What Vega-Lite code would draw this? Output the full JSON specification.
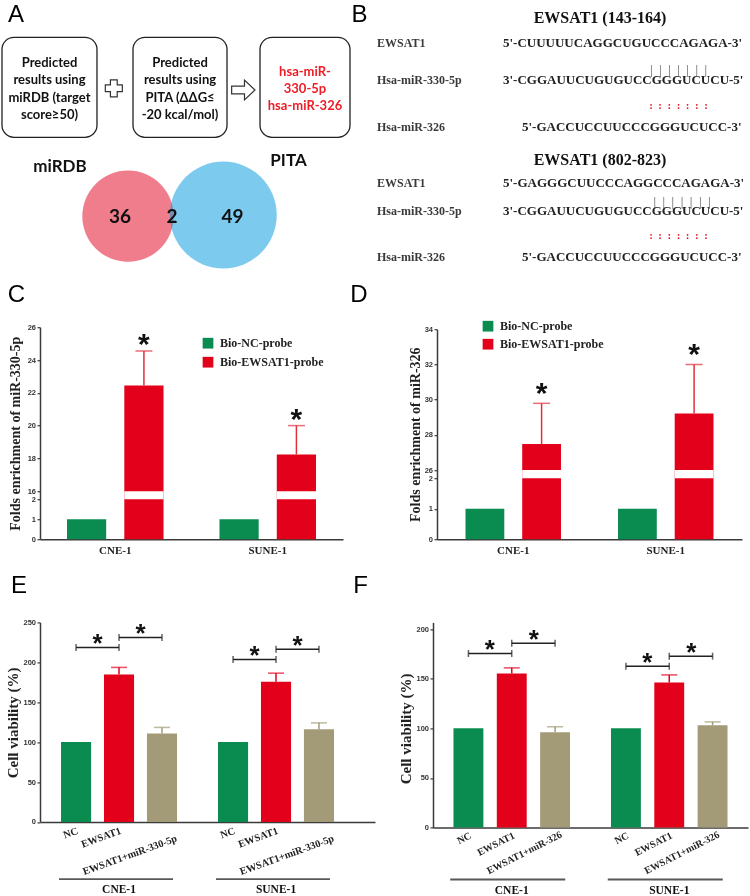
{
  "$schema": "https://vega.github.io/schema/vega-lite/v6.json",
  "background": "white",
  "padding": {"left": 1, "top": 0, "right": 0, "bottom": 0},
  "autosize": {"type": "pad"},
  "config": {
    "view": {"stroke": null},
    "axis": {"domainColor": "#3a3a3a", "domainWidth": 1.5, "tickColor": "#3a3a3a", "tickWidth": 1.2, "tickSize": 3, "labelFont": "Liberation Sans", "labelFontWeight": "bold", "labelFontSize": 7.5, "labelColor": "#333333", "labelPadding": 1.5, "grid": false, "titleFont": "Liberation Serif", "titleFontWeight": "bold", "titleColor": "#222222"},
    "text": {"font": "Liberation Serif"}
  },
  "datasets": {
    "aBoxes": [
      {"step": "miRDB", "x1": 0.57, "x2": 27.71, "y1": 12.87, "y2": 47.36},
      {"step": "PITA", "x1": 38.0, "x2": 64.86, "y1": 12.87, "y2": 47.36},
      {"step": "result", "x1": 74.29, "x2": 100.0, "y1": 12.87, "y2": 47.36}
    ],
    "aText": [
      {"kind": "box", "x": 14.14, "y": 21.72, "label": "Predicted\nresults using\nmiRDB (target\nscore≥50)"},
      {"kind": "box", "x": 51.43, "y": 21.72, "label": "Predicted\nresults using\nPITA (ΔΔG≤\n-20 kcal/mol)"},
      {"kind": "hit", "x": 87.14, "y": 24.83, "label": "hsa-miR-\n330-5p\nhsa-miR-326"},
      {"kind": "set", "x": 17.14, "y": 57.59, "label": "miRDB"},
      {"kind": "set", "x": 82.43, "y": 55.5, "label": "PITA"},
      {"kind": "count", "x": 34.29, "y": 74.66, "label": "36"},
      {"kind": "count", "x": 49.14, "y": 74.66, "label": "2"},
      {"kind": "count", "x": 66.43, "y": 74.66, "label": "49"},
      {"kind": "panel", "x": 4.57, "y": 7.59, "label": "A"},
      {"kind": "panel", "x": 102.71, "y": 7.59, "label": "B"},
      {"kind": "panel", "x": 4.71, "y": 104.14, "label": "C"},
      {"kind": "panel", "x": 102.57, "y": 104.14, "label": "D"},
      {"kind": "panel", "x": 5.43, "y": 204.48, "label": "E"},
      {"kind": "panel", "x": 103.0, "y": 204.48, "label": "F"}
    ],
    "aSigns": [
      {"sign": "plus", "x": 32.52, "y": 30.45},
      {"sign": "arrow", "x": 69.52, "y": 31.03}
    ],
    "aVenn": [
      {"set": "miRDB", "x": 36.57, "y": 74.55},
      {"set": "PITA", "x": 63.8, "y": 74.14}
    ],
    "bText": [
      {"kind": "title", "x": 60, "y": 6.21, "label": "EWSAT1 (143-164)"},
      {"kind": "name", "x": 0.53, "y": 14.83, "label": "EWSAT1"},
      {"kind": "name", "x": 0.53, "y": 27.59, "label": "Hsa-miR-330-5p"},
      {"kind": "name", "x": 0.53, "y": 43.79, "label": "Hsa-miR-326"},
      {"kind": "seq", "x": 34.13, "y": 14.83, "label": "5'-CUUUUUCAGGCUGUCCCAGAGA-3'"},
      {"kind": "seq", "x": 34.13, "y": 27.59, "label": "3'-CGGAUUCUGUGUCCGGGUCUCU-5'"},
      {"kind": "seq", "x": 39.2, "y": 43.79, "label": "5'-GACCUCCUUCCCGGGUCUCC-3'"},
      {"kind": "pair", "x": 80.93, "y": 24.31, "label": "|\u00a0\u00a0|\u00a0\u00a0|\u00a0\u00a0|\u00a0\u00a0|\u00a0\u00a0|\u00a0\u00a0|"},
      {"kind": "dots", "x": 80.93, "y": 36.55, "label": ":\u00a0\u00a0:\u00a0\u00a0:\u00a0\u00a0:\u00a0\u00a0:\u00a0\u00a0:\u00a0\u00a0:"},
      {"kind": "title", "x": 60, "y": 55.17, "label": "EWSAT1 (802-823)"},
      {"kind": "name", "x": 0.53, "y": 63.21, "label": "EWSAT1"},
      {"kind": "name", "x": 0.53, "y": 72.66, "label": "Hsa-miR-330-5p"},
      {"kind": "name", "x": 0.53, "y": 88.72, "label": "Hsa-miR-326"},
      {"kind": "seq", "x": 34.13, "y": 63.21, "label": "5'-GAGGGCUUCCCAGGCCCAGAGA-3'"},
      {"kind": "seq", "x": 34.13, "y": 72.66, "label": "3'-CGGAUUCUGUGUCCGGGUCUCU-5'"},
      {"kind": "seq", "x": 39.2, "y": 88.72, "label": "5'-GACCUCCUUCCCGGGUCUCC-3'"},
      {"kind": "pair", "x": 81.87, "y": 69.66, "label": "|\u00a0\u00a0|\u00a0\u00a0|\u00a0\u00a0|\u00a0\u00a0|\u00a0\u00a0|\u00a0\u00a0|"},
      {"kind": "dots", "x": 80.93, "y": 81.55, "label": ":\u00a0\u00a0:\u00a0\u00a0:\u00a0\u00a0:\u00a0\u00a0:\u00a0\u00a0:\u00a0\u00a0:"}
    ],
    "cBars": [
      {"cell": "CNE-1", "probe": "Bio-NC-probe", "v": 1},
      {"cell": "CNE-1", "probe": "Bio-EWSAT1-probe", "v": 22.45, "err": 24.55},
      {"cell": "SUNE-1", "probe": "Bio-NC-probe", "v": 1},
      {"cell": "SUNE-1", "probe": "Bio-EWSAT1-probe", "v": 18.24, "err": 20.0}
    ],
    "dBars": [
      {"cell": "CNE-1", "probe": "Bio-NC-probe", "v": 1},
      {"cell": "CNE-1", "probe": "Bio-EWSAT1-probe", "v": 27.48, "err": 29.79},
      {"cell": "SUNE-1", "probe": "Bio-NC-probe", "v": 1},
      {"cell": "SUNE-1", "probe": "Bio-EWSAT1-probe", "v": 29.22, "err": 32.0}
    ],
    "cells": [{"cell": "CNE-1"}, {"cell": "SUNE-1"}],
    "eBars": [
      {"cell": "CNE-1", "cond": "NC", "v": 100},
      {"cell": "CNE-1", "cond": "EWSAT1", "v": 184.8, "err": 193.6},
      {"cell": "CNE-1", "cond": "EWSAT1+miR-330-5p", "v": 110.8, "err": 118.4},
      {"cell": "SUNE-1", "cond": "NC", "v": 100},
      {"cell": "SUNE-1", "cond": "EWSAT1", "v": 175.5, "err": 186.4},
      {"cell": "SUNE-1", "cond": "EWSAT1+miR-330-5p", "v": 116.2, "err": 124.1}
    ],
    "eBr": [
      {"id": "e1", "cell": "CNE-1", "cond": "NC", "y": 218.7},
      {"id": "e1", "cell": "CNE-1", "cond": "EWSAT1", "y": 218.7},
      {"id": "e2", "cell": "CNE-1", "cond": "EWSAT1", "y": 231.2},
      {"id": "e2", "cell": "CNE-1", "cond": "EWSAT1+miR-330-5p", "y": 231.2},
      {"id": "e3", "cell": "SUNE-1", "cond": "NC", "y": 203.6},
      {"id": "e3", "cell": "SUNE-1", "cond": "EWSAT1", "y": 203.6},
      {"id": "e4", "cell": "SUNE-1", "cond": "EWSAT1", "y": 216.2},
      {"id": "e4", "cell": "SUNE-1", "cond": "EWSAT1+miR-330-5p", "y": 216.2}
    ],
    "eStar": [
      {"cell": "CNE-1", "cond": "EWSAT1", "side": "L", "y": 218.7},
      {"cell": "CNE-1", "cond": "EWSAT1", "side": "R", "y": 231.2},
      {"cell": "SUNE-1", "cond": "EWSAT1", "side": "L", "y": 203.6},
      {"cell": "SUNE-1", "cond": "EWSAT1", "side": "R", "y": 216.2}
    ],
    "fBars": [
      {"cell": "CNE-1", "cond": "NC", "v": 100},
      {"cell": "CNE-1", "cond": "EWSAT1", "v": 155.3, "err": 161.0},
      {"cell": "CNE-1", "cond": "EWSAT1+miR-326", "v": 96.1, "err": 101.5},
      {"cell": "SUNE-1", "cond": "NC", "v": 100},
      {"cell": "SUNE-1", "cond": "EWSAT1", "v": 146.2, "err": 153.9},
      {"cell": "SUNE-1", "cond": "EWSAT1+miR-326", "v": 103.2, "err": 106.5}
    ],
    "fBr": [
      {"id": "f1", "cell": "CNE-1", "cond": "NC", "y": 175.5},
      {"id": "f1", "cell": "CNE-1", "cond": "EWSAT1", "y": 175.5},
      {"id": "f2", "cell": "CNE-1", "cond": "EWSAT1", "y": 185.9},
      {"id": "f2", "cell": "CNE-1", "cond": "EWSAT1+miR-326", "y": 185.9},
      {"id": "f3", "cell": "SUNE-1", "cond": "NC", "y": 162.7},
      {"id": "f3", "cell": "SUNE-1", "cond": "EWSAT1", "y": 162.7},
      {"id": "f4", "cell": "SUNE-1", "cond": "EWSAT1", "y": 172.8},
      {"id": "f4", "cell": "SUNE-1", "cond": "EWSAT1+miR-326", "y": 172.8}
    ],
    "fStar": [
      {"cell": "CNE-1", "cond": "EWSAT1", "side": "L", "y": 175.5},
      {"cell": "CNE-1", "cond": "EWSAT1", "side": "R", "y": 185.9},
      {"cell": "SUNE-1", "cond": "EWSAT1", "side": "L", "y": 162.7},
      {"cell": "SUNE-1", "cond": "EWSAT1", "side": "R", "y": 172.8}
    ]
  },
  "columns": 2,
  "align": "none",
  "bounds": "flush",
  "spacing": {"row": 83.2, "column": 58},
  "resolve": {"scale": {"color": "independent", "xOffset": "independent"}, "legend": {"color": "independent"}},
  "concat": [
    {
      "width": 277,
      "height": 243.8,
      "encoding": {
        "x": {"field": "x", "type": "quantitative", "scale": {"domain": [11.4286, 90.5714], "nice": false, "zero": false}, "axis": null},
        "y": {"field": "y", "type": "quantitative", "scale": {"domain": [0, 84.069], "nice": false, "zero": false, "reverse": true}, "axis": null}
      },
      "layer": [
        {
          "data": {"name": "aBoxes"},
          "mark": {"type": "rect", "cornerRadius": 12, "fill": "white", "stroke": "#222222", "strokeWidth": 1.3},
          "encoding": {
            "x": {"field": "x1", "type": "quantitative", "scale": {"domain": [11.4286, 90.5714], "nice": false, "zero": false}, "axis": null},
            "x2": {"field": "x2"},
            "y": {"field": "y1", "type": "quantitative", "scale": {"domain": [0, 84.069], "nice": false, "zero": false, "reverse": true}, "axis": null},
            "y2": {"field": "y2"}
          }
        },
        {
          "data": {"name": "aSigns"},
          "transform": [{"filter": "datum.sign == 'plus'"}],
          "mark": {"type": "point", "shape": "cross", "size": 289, "filled": true, "fill": "white", "stroke": "#333333", "strokeWidth": 1.2, "opacity": 1}
        },
        {
          "data": {"name": "aSigns"},
          "transform": [{"filter": "datum.sign == 'arrow'"}],
          "mark": {"type": "point", "shape": "M-1,-0.33L0.1,-0.33L0.1,-0.85L1,0L0.1,0.85L0.1,0.33L-1,0.33Z", "size": 545, "filled": true, "fill": "white", "stroke": "#333333", "strokeWidth": 1.2, "opacity": 1}
        },
        {
          "data": {"name": "aVenn"},
          "transform": [{"filter": "datum.set == 'miRDB'"}],
          "mark": {"type": "point", "shape": "circle", "size": 8332, "filled": true, "color": "#f9b4c0", "opacity": 1}
        },
        {
          "data": {"name": "aVenn"},
          "transform": [{"filter": "datum.set == 'PITA'"}],
          "mark": {"type": "point", "shape": "circle", "size": 11423, "filled": true, "color": "#7ccbef", "opacity": 1}
        },
        {
          "data": {"name": "aVenn"},
          "transform": [{"filter": "datum.set == 'miRDB'"}],
          "mark": {"type": "point", "shape": "circle", "size": 8332, "filled": true, "color": "#f07d8c", "opacity": 0.6, "blend": "multiply"}
        },
        {
          "data": {"name": "aText"},
          "transform": [{"filter": "datum.kind == 'box'"}],
          "mark": {"type": "text", "font": "Lato", "fontWeight": "bold", "fontSize": 13, "lineBreak": "\n", "lineHeight": 17.3, "align": "center", "baseline": "middle", "color": "#111111"},
          "encoding": {"text": {"field": "label"}}
        },
        {
          "data": {"name": "aText"},
          "transform": [{"filter": "datum.kind == 'hit'"}],
          "mark": {"type": "text", "font": "Lato", "fontWeight": "bold", "fontSize": 13, "lineBreak": "\n", "lineHeight": 17, "align": "center", "baseline": "middle", "color": "#ee1c25"},
          "encoding": {"text": {"field": "label"}}
        },
        {
          "data": {"name": "aText"},
          "transform": [{"filter": "datum.kind == 'set'"}],
          "mark": {"type": "text", "font": "Lato", "fontWeight": "bold", "fontSize": 17, "align": "center", "baseline": "middle", "color": "#111111"},
          "encoding": {"text": {"field": "label"}}
        },
        {
          "data": {"name": "aText"},
          "transform": [{"filter": "datum.kind == 'count'"}],
          "mark": {"type": "text", "font": "Lato", "fontWeight": "bold", "fontSize": 19, "align": "center", "baseline": "middle", "color": "#111111"},
          "encoding": {"text": {"field": "label"}}
        },
        {
          "data": {"name": "aText"},
          "transform": [{"filter": "datum.kind == 'panel'"}],
          "mark": {"type": "text", "font": "Liberation Sans", "fontSize": 24, "align": "center", "baseline": "alphabetic", "color": "#000000"},
          "encoding": {"text": {"field": "label"}}
        }
      ]
    },
    {
      "width": 317,
      "height": 243.8,
      "data": {"name": "bText"},
      "encoding": {
        "x": {"field": "x", "type": "quantitative", "scale": {"domain": [15.467, 100], "nice": false, "zero": false}, "axis": null},
        "y": {"field": "y", "type": "quantitative", "scale": {"domain": [0, 84.069], "nice": false, "zero": false, "reverse": true}, "axis": null},
        "text": {"field": "label"}
      },
      "layer": [
        {"transform": [{"filter": "datum.kind == 'title'"}], "mark": {"type": "text", "font": "Liberation Serif", "fontWeight": "bold", "fontSize": 16, "align": "center", "baseline": "middle", "color": "#111111"}},
        {"transform": [{"filter": "datum.kind == 'name'"}], "mark": {"type": "text", "font": "Liberation Serif", "fontWeight": "bold", "fontSize": 12, "align": "left", "baseline": "middle", "color": "#3a3a3a"}},
        {"transform": [{"filter": "datum.kind == 'seq'"}], "mark": {"type": "text", "font": "Liberation Serif", "fontWeight": "bold", "fontSize": 13, "align": "left", "baseline": "middle", "color": "#222222"}},
        {"transform": [{"filter": "datum.kind == 'pair'"}], "mark": {"type": "text", "font": "Liberation Serif", "fontSize": 13, "align": "center", "baseline": "middle", "color": "#555555"}},
        {"transform": [{"filter": "datum.kind == 'dots'"}], "mark": {"type": "text", "font": "Liberation Serif", "fontWeight": "bold", "fontSize": 11, "align": "center", "baseline": "middle", "color": "#e8141b"}}
      ]
    },
    {
      "width": 303,
      "height": 212,
      "data": {"name": "cBars"},
      "encoding": {
        "x": {"field": "cell", "type": "nominal", "scale": {"type": "band", "paddingInner": 0.367, "paddingOuter": 0.177, "align": 0.5}, "axis": {"title": null, "ticks": false, "tickSize": 0, "labelPadding": 5, "labelFont": "Liberation Serif", "labelFontSize": 11, "labelFontWeight": "bold", "labelColor": "#222222", "labelAngle": 0}},
        "xOffset": {"field": "probe", "type": "nominal", "scale": {"type": "band", "domain": ["Bio-NC-probe", "Bio-EWSAT1-probe"], "paddingInner": 0.316, "paddingOuter": 0}}
      },
      "layer": [
        {
          "mark": {"type": "bar"},
          "encoding": {
            "y": {"field": "v", "type": "quantitative", "scale": {"domain": [0, 2, 16, 26], "range": [212, 172, 164, 0], "nice": false, "zero": false}, "axis": {"values": [0, 1, 2, 16, 18, 20, 22, 24, 26], "format": "d", "title": "Folds enrichment of miR-330-5p", "titleFontSize": 14, "titlePadding": 4.5}},
            "color": {"field": "probe", "type": "nominal", "scale": {"domain": ["Bio-NC-probe", "Bio-EWSAT1-probe"], "range": ["#0a8c50", "#e2001b"]}, "legend": {"orient": "none", "legendX": 162, "legendY": 10, "title": null, "symbolType": "square", "symbolSize": 115, "symbolStrokeWidth": 0, "labelFont": "Liberation Serif", "labelFontWeight": "bold", "labelFontSize": 12, "labelColor": "#222222", "rowPadding": 7, "labelOffset": 6, "padding": 0}}
          }
        },
        {
          "mark": {"type": "rect", "color": "white", "xOffset": -1},
          "encoding": {
            "y": {"datum": 2, "type": "quantitative", "scale": {"domain": [0, 2, 16, 26], "range": [212, 172, 164, 0], "nice": false, "zero": false}, "axis": {"values": [0, 1, 2, 16, 18, 20, 22, 24, 26], "format": "d", "title": "Folds enrichment of miR-330-5p", "titleFontSize": 14, "titlePadding": 4.5}},
            "y2": {"datum": 16}
          }
        },
        {
          "transform": [{"filter": "isValid(datum.err)"}],
          "mark": {"type": "rule", "color": "#e0303c", "strokeWidth": 1.5},
          "encoding": {"y": {"field": "v", "type": "quantitative", "scale": {"domain": [0, 2, 16, 26], "range": [212, 172, 164, 0], "nice": false, "zero": false}, "axis": {"values": [0, 1, 2, 16, 18, 20, 22, 24, 26], "format": "d", "title": "Folds enrichment of miR-330-5p", "titleFontSize": 14, "titlePadding": 4.5}}, "y2": {"field": "err"}}
        },
        {
          "transform": [{"filter": "isValid(datum.err)"}],
          "mark": {"type": "tick", "orient": "horizontal", "color": "#e0303c", "thickness": 1.5, "size": 17},
          "encoding": {"y": {"field": "err", "type": "quantitative", "scale": {"domain": [0, 2, 16, 26], "range": [212, 172, 164, 0], "nice": false, "zero": false}, "axis": {"values": [0, 1, 2, 16, 18, 20, 22, 24, 26], "format": "d", "title": "Folds enrichment of miR-330-5p", "titleFontSize": 14, "titlePadding": 4.5}}}
        },
        {
          "transform": [{"filter": "isValid(datum.err)"}],
          "mark": {"type": "text", "text": "*", "font": "Liberation Sans", "fontWeight": "bold", "fontSize": 30, "align": "center", "baseline": "alphabetic", "dy": 3, "color": "#111111"},
          "encoding": {"y": {"field": "err", "type": "quantitative", "scale": {"domain": [0, 2, 16, 26], "range": [212, 172, 164, 0], "nice": false, "zero": false}, "axis": {"values": [0, 1, 2, 16, 18, 20, 22, 24, 26], "format": "d", "title": "Folds enrichment of miR-330-5p", "titleFontSize": 14, "titlePadding": 4.5}}}
        }
      ]
    },
    {
      "width": 309,
      "height": 212,
      "data": {"name": "dBars"},
      "encoding": {
        "x": {"field": "cell", "type": "nominal", "scale": {"type": "band", "range": [4, 309], "paddingInner": 0.374, "paddingOuter": 0.187, "align": 0.5}, "axis": {"title": null, "ticks": false, "tickSize": 0, "labelPadding": 5, "labelFont": "Liberation Serif", "labelFontSize": 11, "labelFontWeight": "bold", "labelColor": "#222222", "labelAngle": 0}},
        "xOffset": {"field": "probe", "type": "nominal", "scale": {"type": "band", "domain": ["Bio-NC-probe", "Bio-EWSAT1-probe"], "paddingInner": 0.316, "paddingOuter": 0}}
      },
      "layer": [
        {
          "mark": {"type": "bar"},
          "encoding": {
            "y": {"field": "v", "type": "quantitative", "scale": {"domain": [0, 2, 26, 34], "range": [212, 151.1, 142.9, 2], "nice": false, "zero": false}, "axis": {"values": [0, 1, 2, 26, 28, 30, 32, 34], "format": "d", "title": "Folds enrichment of miR-326", "titleFontSize": 14, "titlePadding": 2, "offset": -4}},
            "color": {"field": "probe", "type": "nominal", "scale": {"domain": ["Bio-NC-probe", "Bio-EWSAT1-probe"], "range": ["#0a8c50", "#e2001b"]}, "legend": {"orient": "none", "legendX": 49, "legendY": -7, "title": null, "symbolType": "square", "symbolSize": 115, "symbolStrokeWidth": 0, "labelFont": "Liberation Serif", "labelFontWeight": "bold", "labelFontSize": 12, "labelColor": "#222222", "rowPadding": 6, "labelOffset": 6, "padding": 0}}
          }
        },
        {
          "mark": {"type": "rect", "color": "white", "xOffset": 3},
          "encoding": {
            "y": {"datum": 2, "type": "quantitative", "scale": {"domain": [0, 2, 26, 34], "range": [212, 151.1, 142.9, 2], "nice": false, "zero": false}, "axis": {"values": [0, 1, 2, 26, 28, 30, 32, 34], "format": "d", "title": "Folds enrichment of miR-326", "titleFontSize": 14, "titlePadding": 2, "offset": -4}},
            "y2": {"datum": 26}
          }
        },
        {
          "transform": [{"filter": "isValid(datum.err)"}],
          "mark": {"type": "rule", "color": "#e0303c", "strokeWidth": 1.5},
          "encoding": {"y": {"field": "v", "type": "quantitative", "scale": {"domain": [0, 2, 26, 34], "range": [212, 151.1, 142.9, 2], "nice": false, "zero": false}, "axis": {"values": [0, 1, 2, 26, 28, 30, 32, 34], "format": "d", "title": "Folds enrichment of miR-326", "titleFontSize": 14, "titlePadding": 2, "offset": -4}}, "y2": {"field": "err"}}
        },
        {
          "transform": [{"filter": "isValid(datum.err)"}],
          "mark": {"type": "tick", "orient": "horizontal", "color": "#e0303c", "thickness": 1.5, "size": 17},
          "encoding": {"y": {"field": "err", "type": "quantitative", "scale": {"domain": [0, 2, 26, 34], "range": [212, 151.1, 142.9, 2], "nice": false, "zero": false}, "axis": {"values": [0, 1, 2, 26, 28, 30, 32, 34], "format": "d", "title": "Folds enrichment of miR-326", "titleFontSize": 14, "titlePadding": 2, "offset": -4}}}
        },
        {
          "transform": [{"filter": "isValid(datum.err)"}],
          "mark": {"type": "text", "text": "*", "font": "Liberation Sans", "fontWeight": "bold", "fontSize": 30, "align": "center", "baseline": "alphabetic", "dy": 0, "color": "#111111"},
          "encoding": {"y": {"field": "err", "type": "quantitative", "scale": {"domain": [0, 2, 26, 34], "range": [212, 151.1, 142.9, 2], "nice": false, "zero": false}, "axis": {"values": [0, 1, 2, 26, 28, 30, 32, 34], "format": "d", "title": "Folds enrichment of miR-326", "titleFontSize": 14, "titlePadding": 2, "offset": -4}}}
        }
      ]
    },
    {
      "width": 335,
      "height": 199.5,
      "encoding": {
        "x": {"field": "cell", "type": "nominal", "scale": {"type": "band", "domain": ["CNE-1", "SUNE-1"], "paddingInner": 0.2611, "paddingOuter": 0.1975, "align": 0.339}, "axis": {"title": null, "ticks": false, "tickSize": 0, "labelPadding": 62, "labelFont": "Liberation Serif", "labelFontSize": 11.5, "labelFontWeight": "bold", "labelColor": "#111111", "labelAngle": 0}},
        "xOffset": {"field": "cond", "type": "nominal", "scale": {"type": "band", "domain": ["NC", "EWSAT1", "EWSAT1+miR-330-5p"], "paddingInner": 0.3, "paddingOuter": 0}}
      },
      "layer": [
        {
          "data": {"name": "eBars"},
          "mark": {"type": "bar"},
          "encoding": {
            "y": {"field": "v", "type": "quantitative", "scale": {"domain": [0, 250], "nice": false}, "axis": {"values": [0, 50, 100, 150, 200, 250], "format": "d", "title": "Cell viability (%)", "titleFontSize": 15, "titleAngle": 270, "titleX": -28, "titleY": 100, "titleAlign": "center", "titleBaseline": "middle"}},
            "color": {"field": "cond", "type": "nominal", "scale": {"domain": ["NC", "EWSAT1", "EWSAT1+miR-330-5p"], "range": ["#0a8c50", "#e2001b", "#a39b78"]}, "legend": null}
          }
        },
        {
          "data": {"name": "eBars"},
          "transform": [{"filter": "isValid(datum.err)"}],
          "mark": {"type": "rule", "strokeWidth": 1.5},
          "encoding": {
            "y": {"field": "v", "type": "quantitative", "scale": {"domain": [0, 250], "nice": false}, "axis": {"values": [0, 50, 100, 150, 200, 250], "format": "d", "title": "Cell viability (%)", "titleFontSize": 15, "titleAngle": 270, "titleX": -28, "titleY": 100, "titleAlign": "center", "titleBaseline": "middle"}},
            "y2": {"field": "err"},
            "color": {"field": "cond", "type": "nominal", "scale": {"domain": ["NC", "EWSAT1", "EWSAT1+miR-330-5p"], "range": ["#0a8c50", "#e2001b", "#a39b78"]}, "legend": null}
          }
        },
        {
          "data": {"name": "eBars"},
          "transform": [{"filter": "isValid(datum.err)"}],
          "mark": {"type": "tick", "orient": "horizontal", "thickness": 1.5, "size": 16},
          "encoding": {
            "y": {"field": "err", "type": "quantitative", "scale": {"domain": [0, 250], "nice": false}, "axis": {"values": [0, 50, 100, 150, 200, 250], "format": "d", "title": "Cell viability (%)", "titleFontSize": 15, "titleAngle": 270, "titleX": -28, "titleY": 100, "titleAlign": "center", "titleBaseline": "middle"}},
            "color": {"field": "cond", "type": "nominal", "scale": {"domain": ["NC", "EWSAT1", "EWSAT1+miR-330-5p"], "range": ["#0a8c50", "#e2001b", "#a39b78"]}, "legend": null}
          }
        },
        {
          "data": {"name": "eBars"},
          "transform": [{"filter": "datum.cond != 'EWSAT1+miR-330-5p'"}],
          "mark": {"type": "text", "angle": 340, "align": "right", "baseline": "top", "font": "Liberation Serif", "fontWeight": "bold", "fontSize": 10.3, "color": "#222222", "yOffset": 4},
          "encoding": {
            "y": {"datum": 0, "type": "quantitative", "scale": {"domain": [0, 250], "nice": false}, "axis": {"values": [0, 50, 100, 150, 200, 250], "format": "d", "title": "Cell viability (%)", "titleFontSize": 15, "titleAngle": 270, "titleX": -28, "titleY": 100, "titleAlign": "center", "titleBaseline": "middle"}},
            "text": {"field": "cond"}
          }
        },
        {
          "data": {"name": "eBars"},
          "transform": [{"filter": "datum.cond == 'EWSAT1+miR-330-5p'"}],
          "mark": {"type": "text", "angle": 340, "align": "right", "baseline": "top", "font": "Liberation Serif", "fontWeight": "bold", "fontSize": 10.3, "color": "#222222", "yOffset": 4, "dx": 9.6, "dy": 11.6},
          "encoding": {
            "y": {"datum": 0, "type": "quantitative", "scale": {"domain": [0, 250], "nice": false}, "axis": {"values": [0, 50, 100, 150, 200, 250], "format": "d", "title": "Cell viability (%)", "titleFontSize": 15, "titleAngle": 270, "titleX": -28, "titleY": 100, "titleAlign": "center", "titleBaseline": "middle"}},
            "text": {"field": "cond"}
          }
        },
        {
          "data": {"name": "cells"},
          "mark": {"type": "tick", "orient": "horizontal", "size": 114, "thickness": 1.8, "color": "#111111", "yOffset": 57.3, "xOffset": -3},
          "encoding": {"xOffset": null, "y": {"datum": 0, "type": "quantitative", "scale": {"domain": [0, 250], "nice": false}, "axis": {"values": [0, 50, 100, 150, 200, 250], "format": "d", "title": "Cell viability (%)", "titleFontSize": 15, "titleAngle": 270, "titleX": -28, "titleY": 100, "titleAlign": "center", "titleBaseline": "middle"}}}
        },
        {
          "data": {"name": "eBr"},
          "mark": {"type": "line", "color": "#222222", "strokeWidth": 1.5},
          "encoding": {
            "y": {"field": "y", "type": "quantitative", "scale": {"domain": [0, 250], "nice": false}, "axis": {"values": [0, 50, 100, 150, 200, 250], "format": "d", "title": "Cell viability (%)", "titleFontSize": 15, "titleAngle": 270, "titleX": -28, "titleY": 100, "titleAlign": "center", "titleBaseline": "middle"}},
            "detail": {"field": "id"}
          }
        },
        {
          "data": {"name": "eBr"},
          "mark": {"type": "tick", "orient": "vertical", "size": 7, "thickness": 1.5, "color": "#222222"},
          "encoding": {
            "y": {"field": "y", "type": "quantitative", "scale": {"domain": [0, 250], "nice": false}, "axis": {"values": [0, 50, 100, 150, 200, 250], "format": "d", "title": "Cell viability (%)", "titleFontSize": 15, "titleAngle": 270, "titleX": -28, "titleY": 100, "titleAlign": "center", "titleBaseline": "middle"}}
          }
        },
        {
          "data": {"name": "eStar"},
          "transform": [{"filter": "datum.side == 'L'"}],
          "mark": {"type": "text", "text": "*", "font": "Liberation Sans", "fontWeight": "bold", "fontSize": 26, "align": "center", "baseline": "alphabetic", "dx": -21.5, "dy": 4.5, "color": "#111111"},
          "encoding": {
            "y": {"field": "y", "type": "quantitative", "scale": {"domain": [0, 250], "nice": false}, "axis": {"values": [0, 50, 100, 150, 200, 250], "format": "d", "title": "Cell viability (%)", "titleFontSize": 15, "titleAngle": 270, "titleX": -28, "titleY": 100, "titleAlign": "center", "titleBaseline": "middle"}}
          }
        },
        {
          "data": {"name": "eStar"},
          "transform": [{"filter": "datum.side == 'R'"}],
          "mark": {"type": "text", "text": "*", "font": "Liberation Sans", "fontWeight": "bold", "fontSize": 26, "align": "center", "baseline": "alphabetic", "dx": 21.5, "dy": 4.5, "color": "#111111"},
          "encoding": {
            "y": {"field": "y", "type": "quantitative", "scale": {"domain": [0, 250], "nice": false}, "axis": {"values": [0, 50, 100, 150, 200, 250], "format": "d", "title": "Cell viability (%)", "titleFontSize": 15, "titleAngle": 270, "titleX": -28, "titleY": 100, "titleAlign": "center", "titleBaseline": "middle"}}
          }
        }
      ]
    },
    {
      "width": 315,
      "height": 205.1,
      "encoding": {
        "x": {"field": "cell", "type": "nominal", "scale": {"type": "band", "domain": ["CNE-1", "SUNE-1"], "paddingInner": 0.26, "paddingOuter": 0.13, "align": 0.5}, "axis": {"title": null, "ticks": false, "tickSize": 0, "labelPadding": 57, "labelFont": "Liberation Serif", "labelFontSize": 11.5, "labelFontWeight": "bold", "labelColor": "#111111", "labelAngle": 0}},
        "xOffset": {"field": "cond", "type": "nominal", "scale": {"type": "band", "domain": ["NC", "EWSAT1", "EWSAT1+miR-326"], "paddingInner": 0.31, "paddingOuter": 0}}
      },
      "layer": [
        {
          "data": {"name": "fBars"},
          "mark": {"type": "bar"},
          "encoding": {
            "y": {"field": "v", "type": "quantitative", "scale": {"domain": [0, 206.86], "nice": false}, "axis": {"values": [0, 50, 100, 150, 200], "format": "d", "title": "Cell viability (%)", "titleFontSize": 15, "titleAngle": 270, "titleX": -28, "titleY": 106, "titleAlign": "center", "titleBaseline": "middle"}},
            "color": {"field": "cond", "type": "nominal", "scale": {"domain": ["NC", "EWSAT1", "EWSAT1+miR-326"], "range": ["#0a8c50", "#e2001b", "#a39b78"]}, "legend": null}
          }
        },
        {
          "data": {"name": "fBars"},
          "transform": [{"filter": "isValid(datum.err)"}],
          "mark": {"type": "rule", "strokeWidth": 1.5},
          "encoding": {
            "y": {"field": "v", "type": "quantitative", "scale": {"domain": [0, 206.86], "nice": false}, "axis": {"values": [0, 50, 100, 150, 200], "format": "d", "title": "Cell viability (%)", "titleFontSize": 15, "titleAngle": 270, "titleX": -28, "titleY": 106, "titleAlign": "center", "titleBaseline": "middle"}},
            "y2": {"field": "err"},
            "color": {"field": "cond", "type": "nominal", "scale": {"domain": ["NC", "EWSAT1", "EWSAT1+miR-326"], "range": ["#0a8c50", "#e2001b", "#a39b78"]}, "legend": null}
          }
        },
        {
          "data": {"name": "fBars"},
          "transform": [{"filter": "isValid(datum.err)"}],
          "mark": {"type": "tick", "orient": "horizontal", "thickness": 1.5, "size": 16},
          "encoding": {
            "y": {"field": "err", "type": "quantitative", "scale": {"domain": [0, 206.86], "nice": false}, "axis": {"values": [0, 50, 100, 150, 200], "format": "d", "title": "Cell viability (%)", "titleFontSize": 15, "titleAngle": 270, "titleX": -28, "titleY": 106, "titleAlign": "center", "titleBaseline": "middle"}},
            "color": {"field": "cond", "type": "nominal", "scale": {"domain": ["NC", "EWSAT1", "EWSAT1+miR-326"], "range": ["#0a8c50", "#e2001b", "#a39b78"]}, "legend": null}
          }
        },
        {
          "data": {"name": "fBars"},
          "transform": [{"filter": "datum.cond != 'EWSAT1+miR-326'"}],
          "mark": {"type": "text", "angle": 333, "align": "right", "baseline": "top", "font": "Liberation Serif", "fontWeight": "bold", "fontSize": 10, "color": "#222222", "yOffset": 3},
          "encoding": {
            "y": {"datum": 0, "type": "quantitative", "scale": {"domain": [0, 206.86], "nice": false}, "axis": {"values": [0, 50, 100, 150, 200], "format": "d", "title": "Cell viability (%)", "titleFontSize": 15, "titleAngle": 270, "titleX": -28, "titleY": 106, "titleAlign": "center", "titleBaseline": "middle"}},
            "text": {"field": "cond"}
          }
        },
        {
          "data": {"name": "fBars"},
          "transform": [{"filter": "datum.cond == 'EWSAT1+miR-326'"}],
          "mark": {"type": "text", "angle": 333, "align": "right", "baseline": "top", "font": "Liberation Serif", "fontWeight": "bold", "fontSize": 10, "color": "#222222", "yOffset": 3, "dx": 4, "dy": 1},
          "encoding": {
            "y": {"datum": 0, "type": "quantitative", "scale": {"domain": [0, 206.86], "nice": false}, "axis": {"values": [0, 50, 100, 150, 200], "format": "d", "title": "Cell viability (%)", "titleFontSize": 15, "titleAngle": 270, "titleX": -28, "titleY": 106, "titleAlign": "center", "titleBaseline": "middle"}},
            "text": {"field": "cond"}
          }
        },
        {
          "data": {"name": "cells"},
          "mark": {"type": "tick", "orient": "horizontal", "size": 115, "thickness": 1.8, "color": "#111111", "yOffset": 52, "xOffset": -4},
          "encoding": {"xOffset": null, "y": {"datum": 0, "type": "quantitative", "scale": {"domain": [0, 206.86], "nice": false}, "axis": {"values": [0, 50, 100, 150, 200], "format": "d", "title": "Cell viability (%)", "titleFontSize": 15, "titleAngle": 270, "titleX": -28, "titleY": 106, "titleAlign": "center", "titleBaseline": "middle"}}}
        },
        {
          "data": {"name": "fBr"},
          "mark": {"type": "line", "color": "#222222", "strokeWidth": 1.5},
          "encoding": {
            "y": {"field": "y", "type": "quantitative", "scale": {"domain": [0, 206.86], "nice": false}, "axis": {"values": [0, 50, 100, 150, 200], "format": "d", "title": "Cell viability (%)", "titleFontSize": 15, "titleAngle": 270, "titleX": -28, "titleY": 106, "titleAlign": "center", "titleBaseline": "middle"}},
            "detail": {"field": "id"}
          }
        },
        {
          "data": {"name": "fBr"},
          "mark": {"type": "tick", "orient": "vertical", "size": 7, "thickness": 1.5, "color": "#222222"},
          "encoding": {
            "y": {"field": "y", "type": "quantitative", "scale": {"domain": [0, 206.86], "nice": false}, "axis": {"values": [0, 50, 100, 150, 200], "format": "d", "title": "Cell viability (%)", "titleFontSize": 15, "titleAngle": 270, "titleX": -28, "titleY": 106, "titleAlign": "center", "titleBaseline": "middle"}}
          }
        },
        {
          "data": {"name": "fStar"},
          "transform": [{"filter": "datum.side == 'L'"}],
          "mark": {"type": "text", "text": "*", "font": "Liberation Sans", "fontWeight": "bold", "fontSize": 26, "align": "center", "baseline": "alphabetic", "dx": -22, "dy": 4.5, "color": "#111111"},
          "encoding": {
            "y": {"field": "y", "type": "quantitative", "scale": {"domain": [0, 206.86], "nice": false}, "axis": {"values": [0, 50, 100, 150, 200], "format": "d", "title": "Cell viability (%)", "titleFontSize": 15, "titleAngle": 270, "titleX": -28, "titleY": 106, "titleAlign": "center", "titleBaseline": "middle"}}
          }
        },
        {
          "data": {"name": "fStar"},
          "transform": [{"filter": "datum.side == 'R'"}],
          "mark": {"type": "text", "text": "*", "font": "Liberation Sans", "fontWeight": "bold", "fontSize": 26, "align": "center", "baseline": "alphabetic", "dx": 22, "dy": 4.5, "color": "#111111"},
          "encoding": {
            "y": {"field": "y", "type": "quantitative", "scale": {"domain": [0, 206.86], "nice": false}, "axis": {"values": [0, 50, 100, 150, 200], "format": "d", "title": "Cell viability (%)", "titleFontSize": 15, "titleAngle": 270, "titleX": -28, "titleY": 106, "titleAlign": "center", "titleBaseline": "middle"}}
          }
        }
      ]
    }
  ]
}
